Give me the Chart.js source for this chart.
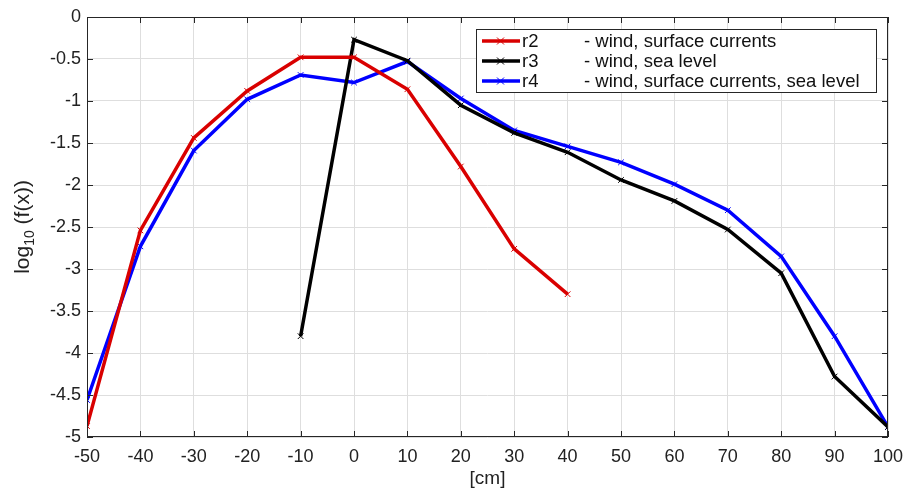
<!DOCTYPE html>
<html>
<head>
<meta charset="utf-8">
<script src="https://cdn.jsdelivr.net/npm/chart.js@4"></script>
<style>
  html, body { margin: 0; padding: 0; background: #fff; }
  #wrap { width: 903px; height: 491px; }
</style>
</head>
<body>
<div id="wrap"><canvas id="c" width="903" height="491"></canvas></div>
<script>
// x positions [cm] for each run
var xR2 = [-50, -40, -30, -20, -10, 0, 10, 20, 30, 40];
var xR3 = [-10, 0, 10, 20, 30, 40, 50, 60, 70, 80, 90, 100];
var xR4 = [-50, -40, -30, -20, -10, 0, 10, 20, 30, 40, 50, 60, 70, 80, 90, 100];

// log10(f(x)) values
var r2 = [-4.87, -2.54, -1.44, -0.88, -0.48, -0.48, -0.86, -1.78, -2.76, -3.30];
var r3 = [-3.80, -0.27, -0.52, -1.05, -1.38, -1.61, -1.94, -2.19, -2.53, -3.05, -4.28, -4.88];
var r4 = [-4.56, -2.73, -1.59, -0.98, -0.69, -0.78, -0.53, -0.97, -1.35, -1.54, -1.73, -1.99, -2.30, -2.85, -3.80, -4.88];

var names = ['r2', 'r3', 'r4'];
var descriptions = ['- wind, surface currents', '- wind, sea level', '- wind, surface currents, sea level'];
var colors = ['#d90000', '#000000', '#0000ff'];

var FONT = 'Liberation Sans, Arial, sans-serif';

function toPoints(xs, ys) {
    var out = [];
    for (var i = 0; i < xs.length; i++) {
        out.push({ x: xs[i], y: ys[i] });
    }
    return out;
}

function makeSet(i, xs, ys) {
    return {
        label: names[i],
        data: toPoints(xs, ys),
        borderColor: colors[i],
        backgroundColor: colors[i],
        borderWidth: 3.5,
        pointStyle: 'crossRot',
        pointRadius: 4,
        pointBorderWidth: 1,
        pointBorderColor: colors[i],
        tension: 0
    };
}

// box, inward ticks, y title with subscript and the legend
var decor = {
    id: 'decor',
    afterDraw: function (chart) {
        var ctx = chart.ctx;
        var a = chart.chartArea;
        var xs = chart.scales.x, ys = chart.scales.y;
        ctx.save();
        ctx.strokeStyle = '#262626';
        ctx.lineWidth = 1;
        ctx.strokeRect(a.left + 0.5, a.top + 0.5, a.right - a.left - 1, a.bottom - a.top - 1);

        var tl = 6;
        ctx.beginPath();
        xs.ticks.forEach(function (t) {
            var px = Math.round(xs.getPixelForValue(t.value)) + 0.5;
            ctx.moveTo(px, a.bottom); ctx.lineTo(px, a.bottom - tl);
            ctx.moveTo(px, a.top); ctx.lineTo(px, a.top + tl);
        });
        ys.ticks.forEach(function (t) {
            var py = Math.round(ys.getPixelForValue(t.value)) + 0.5;
            ctx.moveTo(a.left, py); ctx.lineTo(a.left + tl, py);
            ctx.moveTo(a.right, py); ctx.lineTo(a.right - tl, py);
        });
        ctx.stroke();

        // y axis title: log10 (f(x))
        ctx.translate(23, (a.top + a.bottom) / 2);
        ctx.rotate(-Math.PI / 2);
        ctx.fillStyle = '#222';
        ctx.textBaseline = 'middle';
        var big = '21px ' + FONT, small = '14px ' + FONT;
        ctx.font = big; var w1 = ctx.measureText('log').width;
        ctx.font = small; var w2 = ctx.measureText('10').width;
        ctx.font = big; var w3 = ctx.measureText(' (f(x))').width;
        var x0 = -(w1 + w2 + w3) / 2;
        ctx.textAlign = 'left';
        ctx.font = big; ctx.fillText('log', x0, 0);
        ctx.font = small; ctx.fillText('10', x0 + w1, 7);
        ctx.font = big; ctx.fillText(' (f(x))', x0 + w1 + w2, 0);
        ctx.restore();

        // legend
        ctx.save();
        var lx = 476.5, ly = 29.5, lw = 400, lh = 63;
        ctx.fillStyle = '#fff';
        ctx.fillRect(lx, ly, lw, lh);
        ctx.strokeStyle = '#262626';
        ctx.lineWidth = 1;
        ctx.strokeRect(lx, ly, lw, lh);
        ctx.font = '18.5px ' + FONT;
        ctx.textBaseline = 'middle';
        ctx.textAlign = 'left';
        for (var i = 0; i < names.length; i++) {
            var cy = 41 + i * 20;
            ctx.strokeStyle = colors[i];
            ctx.lineWidth = 3.5;
            ctx.beginPath(); ctx.moveTo(482, cy); ctx.lineTo(520, cy); ctx.stroke();
            ctx.lineWidth = 1;
            ctx.beginPath();
            ctx.moveTo(497, cy - 3.5); ctx.lineTo(504, cy + 3.5);
            ctx.moveTo(497, cy + 3.5); ctx.lineTo(504, cy - 3.5);
            ctx.stroke();
            ctx.fillStyle = '#111';
            ctx.fillText(names[i], 522, cy + 1);
            ctx.fillText(descriptions[i], 584, cy + 1);
        }
        ctx.restore();
    }
};

new Chart(document.getElementById('c').getContext('2d'), {
    type: 'line',
    data: {
        datasets: [makeSet(0, xR2, r2), makeSet(1, xR3, r3), makeSet(2, xR4, r4)]
    },
    options: {
        responsive: false,
        animation: false,
        layout: { padding: { left: 0, right: 15, top: 17, bottom: 0 } },
        plugins: {
            legend: { display: false },
            tooltip: { enabled: false }
        },
        scales: {
            x: {
                type: 'linear',
                min: -50,
                max: 100,
                grid: { color: '#dedede', drawTicks: false },
                border: { display: false },
                ticks: {
                    stepSize: 10,
                    padding: 9,
                    color: '#222',
                    font: { family: FONT, size: 18 },
                    maxRotation: 0
                },
                title: {
                    display: true,
                    text: '[cm]',
                    color: '#222',
                    font: { family: FONT, size: 19 },
                    padding: { top: 0, bottom: 1 }
                },
                afterFit: function (s) {
                    s.height = 54;
                    s.paddingLeft = 0;
                    s.paddingRight = 0;
                }
            },
            y: {
                min: -5,
                max: 0,
                grid: { color: '#dedede', drawTicks: false },
                border: { display: false },
                ticks: {
                    stepSize: 0.5,
                    padding: 6,
                    color: '#222',
                    font: { family: FONT, size: 18 },
                    callback: function (v) { return String(Math.round(v * 10) / 10); }
                },
                afterFit: function (s) {
                    s.width = 87;
                    s.paddingTop = 0;
                    s.paddingBottom = 0;
                }
            }
        }
    },
    plugins: [decor]
});
</script>
</body>
</html>
